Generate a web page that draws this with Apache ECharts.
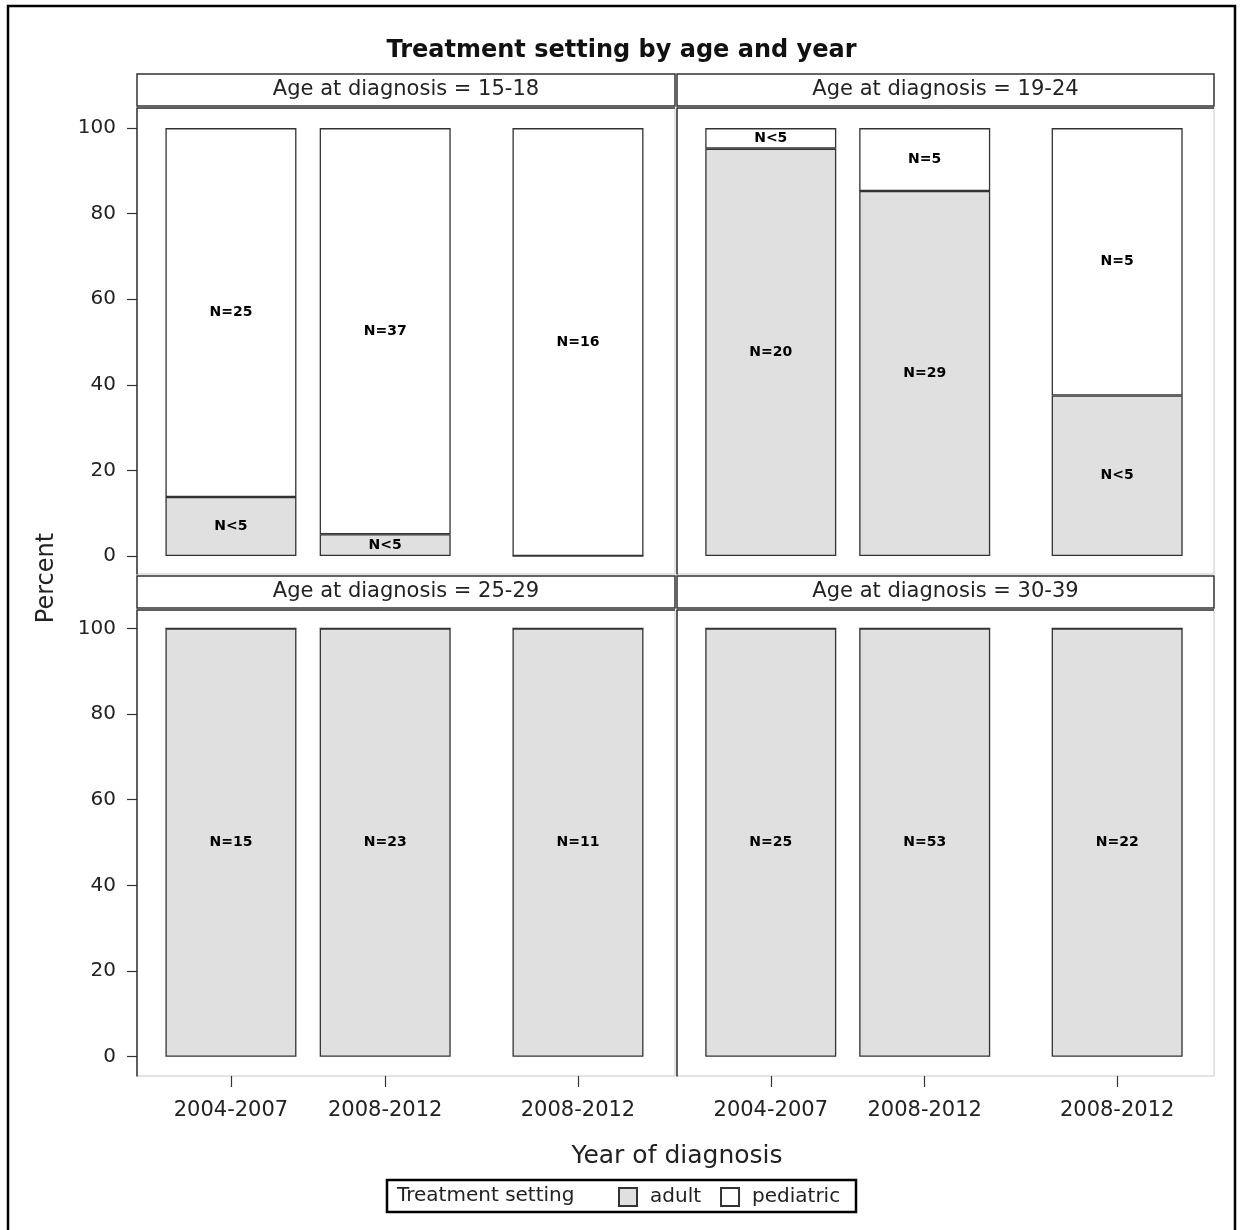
<!DOCTYPE html>
<html>
<head>
<meta charset="utf-8">
<script src="https://cdn.jsdelivr.net/npm/echarts@6/dist/echarts.min.js"></script>
<style>
  html, body { margin: 0; padding: 0; background: #fff; }
  #chart { width: 1243px; height: 1230px; }
</style>
</head>
<body>
<div id="chart"></div>
<script>
// data (percent of patients per setting)
const years = ['2004-2007', '2008-2012', '2008-2012']
const yearPos = [1, 2, 3.25]
const ageGroups = ['15-18', '19-24', '25-29', '30-39']
const adultPct = [[13.8, 5.1, 0], [95.2, 85.3, 37.5], [100, 100, 100], [100, 100, 100]]
const pediatricPct = [[86.2, 94.9, 100], [4.8, 14.7, 62.5], [0, 0, 0], [0, 0, 0]]
const adultN = [['N<5', 'N<5', ''], ['N=20', 'N=29', 'N<5'], ['N=15', 'N=23', 'N=11'], ['N=25', 'N=53', 'N=22']]
const pediatricN = [['N=25', 'N=37', 'N=16'], ['N<5', 'N=5', 'N=5'], ['', '', ''], ['', '', '']]
const yTicks = [0, 20, 40, 60, 80, 100]

const FONT = '"DejaVu Sans", Verdana, sans-serif'
const DARK = '#333'
const TEXT = '#222'

// panel layout: 2 x 2
const panels = [
  { left: 137, top: 108, width: 538, yMin: -4.2, yMax: 104.7 },
  { left: 677, top: 108, width: 537, yMin: -4.2, yMax: 104.7 },
  { left: 137, top: 610, width: 538, yMin: -4.5, yMax: 104.3 },
  { left: 677, top: 610, width: 537, yMin: -4.5, yMax: 104.3 },
]
const PH = 466
const STRIP_H = 32

const grid = panels.map(p => ({
  left: p.left, top: p.top, width: p.width, height: PH,
  show: true, borderColor: '#c8c8c8', borderWidth: 1, backgroundColor: '#fff',
}))

const xAxis = panels.map((p, i) => {
  const bottomRow = i >= 2
  return {
    type: 'value', gridIndex: i, min: 0.391, max: 3.879,
    axisLine: { show: false, onZero: false },
    splitLine: { show: false },
    axisTick: {
      show: bottomRow, customValues: yearPos, length: 11,
      lineStyle: { color: DARK, width: 1.2 },
    },
    axisLabel: {
      show: bottomRow, customValues: yearPos, margin: 24,
      fontFamily: FONT, fontSize: 21, color: TEXT,
      formatter: v => years[yearPos.indexOf(v)] || '',
    },
  }
})

const yAxis = panels.map((p, i) => {
  const leftCol = i % 2 === 0
  return {
    type: 'value', gridIndex: i, min: p.yMin, max: p.yMax,
    splitLine: { show: false },
    axisLine: { show: true, onZero: false, lineStyle: { color: DARK, width: 1.5 } },
    axisTick: {
      show: leftCol, customValues: yTicks, length: 10,
      lineStyle: { color: DARK, width: 1.2 },
    },
    axisLabel: {
      show: leftCol, customValues: yTicks, margin: 21,
      fontFamily: FONT, fontSize: 20, color: TEXT,
    },
  }
})

function barLabel(texts) {
  return {
    show: true, position: 'inside', color: '#000',
    fontFamily: FONT, fontSize: 14, fontWeight: 'bold',
    formatter: p => texts[p.dataIndex],
  }
}

// values first, so the stack runs on the y dimension
const series = []
ageGroups.forEach((g, i) => {
  series.push({
    name: 'adult', type: 'bar', stack: 'panel' + i,
    xAxisIndex: i, yAxisIndex: i, barWidth: 131,
    encode: { x: 1, y: 0 },
    data: yearPos.map((x, k) => [adultPct[i][k], x]),
    itemStyle: { color: '#e0e0e0', borderColor: DARK, borderWidth: 1.3 },
    label: barLabel(adultN[i]),
  })
  series.push({
    name: 'pediatric', type: 'bar', stack: 'panel' + i,
    xAxisIndex: i, yAxisIndex: i, barWidth: 131,
    encode: { x: 1, y: 0 },
    data: yearPos.map((x, k) => [pediatricPct[i][k], x]),
    itemStyle: { color: '#ffffff', borderColor: DARK, borderWidth: 1.3 },
    label: barLabel(pediatricN[i]),
  })
})

// strip headers above each panel + dark top edge of panels
const graphics = []
panels.forEach((p, i) => {
  graphics.push({
    type: 'rect', z: 10,
    shape: { x: p.left, y: p.top - STRIP_H - 2, width: p.width, height: STRIP_H },
    style: { fill: '#fff', stroke: DARK, lineWidth: 1.5 },
  })
  graphics.push({
    type: 'text', z: 11,
    x: p.left + p.width / 2, y: p.top - STRIP_H / 2 - 2,
    style: {
      text: 'Age at diagnosis = ' + ageGroups[i], fill: TEXT,
      font: '21px ' + FONT, align: 'center', verticalAlign: 'middle',
    },
  })
  graphics.push({
    type: 'line', z: 10,
    shape: { x1: p.left, y1: p.top, x2: p.left + p.width, y2: p.top },
    style: { stroke: DARK, lineWidth: 1.5 },
  })
})

// outer frame
graphics.push({
  type: 'rect', z: 20,
  shape: { x: 8, y: 6, width: 1227, height: 1240 },
  style: { fill: null, stroke: '#000', lineWidth: 2.5 },
})
// axis titles
graphics.push({
  type: 'text', x: 47, y: 578, rotation: Math.PI / 2,
  style: { text: 'Percent', fill: TEXT, font: '24px ' + FONT, align: 'center', verticalAlign: 'middle' },
})
graphics.push({
  type: 'text', x: 677, y: 1156,
  style: { text: 'Year of diagnosis', fill: TEXT, font: '25px ' + FONT, align: 'center', verticalAlign: 'middle' },
})
// legend frame and title
graphics.push({
  type: 'rect', z: 5,
  shape: { x: 387, y: 1180, width: 469, height: 32 },
  style: { fill: '#fff', stroke: '#000', lineWidth: 2.5 },
})
graphics.push({
  type: 'text', z: 6, x: 397, y: 1196,
  style: { text: 'Treatment setting', fill: TEXT, font: '20px ' + FONT, verticalAlign: 'middle' },
})

const chart = echarts.init(document.getElementById('chart'))
chart.setOption({
  animation: false,
  backgroundColor: '#fff',
  title: {
    text: 'Treatment setting by age and year', left: 'center', top: 34,
    textStyle: { fontFamily: FONT, fontSize: 24, fontWeight: 'bold', color: '#111' },
  },
  legend: {
    data: ['adult', 'pediatric'], left: 618, top: 1187, z: 10, padding: 0,
    icon: 'rect', itemWidth: 18, itemHeight: 18, itemGap: 19,
    textStyle: { fontFamily: FONT, fontSize: 20, color: TEXT, padding: [0, 0, 0, 8] },
  },
  grid, xAxis, yAxis, series,
  graphic: graphics,
})
</script>
</body>
</html>
